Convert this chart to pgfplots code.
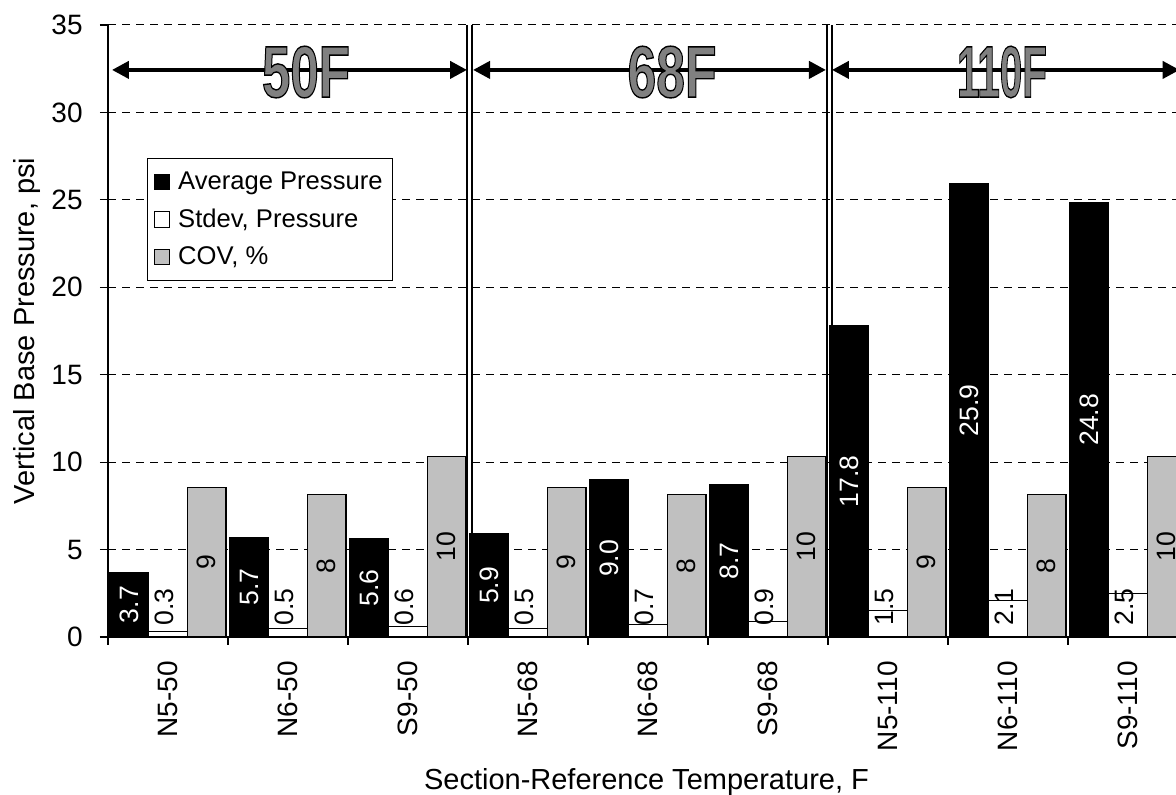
\documentclass[border=0pt]{standalone}
\usepackage{fontspec}
\setmainfont{Liberation Sans}
\usepackage{pgfplots}
\usepackage{pgfplotstable}
\pgfplotsset{compat=1.18}
\usetikzlibrary{arrows.meta}
\definecolor{barg}{HTML}{C0C0C0}
\definecolor{titleg}{HTML}{808080}

\pgfplotstableread{
x avg sd cov avgl sdl covl
0.5 3.7 0.3 8.55 3.7 0.3 9
1.5 5.7 0.5 8.15 5.7 0.5 8
2.5 5.6 0.6 10.3 5.6 0.6 10
3.5 5.9 0.5 8.55 5.9 0.5 9
4.5 9.0 0.7 8.15 9.0 0.7 8
5.5 8.7 0.9 10.3 8.7 0.9 10
6.5 17.8 1.5 8.55 17.8 1.5 9
7.5 25.95 2.1 8.15 25.9 2.1 8
8.5 24.85 2.5 10.3 24.8 2.5 10
}\datatable

\newcommand{\lblfont}{\fontsize{13.3}{15}\selectfont}
\newcommand{\outl}[1]{{\fontsize{36}{40}\selectfont\color{titleg}\special{pdf:literal direct 2 Tr 0.7 w 0 G}\bfseries #1\special{pdf:literal direct 0 Tr}}}

\begin{document}
\begin{tikzpicture}
\begin{axis}[
  at={(54pt,79pt)}, anchor=south west,
  scale only axis, width=534pt, height=306pt,
  xmin=0, xmax=8.9, ymin=0, ymax=35,
  axis x line*=bottom, axis y line*=left,
  axis line style={line width=0.8pt, black},
  every tick/.style={black, line width=0.6pt},
  tick align=outside, major tick length=4pt,
  ytick={0,5,...,35},
  xtick={0,1,...,9}, xticklabels={},
  extra x ticks={0.5,1.5,...,8.5},
  extra x tick labels={N5-50,N6-50,S9-50,N5-68,N6-68,S9-68,N5-110,N6-110,S9-110},
  extra x tick style={major tick length=0pt,
     tick label style={rotate=90, anchor=east, inner sep=0pt}},
  xticklabel shift=12pt,
  yticklabel style={anchor=east, inner sep=0pt},
  yticklabel shift=8.5pt,
  /pgf/number format/assume math mode=true,
  tick label style={font=\fontsize{14}{16}\selectfont},
  ymajorgrids,
  grid style={black, line width=0.5pt, dash pattern=on 4pt off 3pt},
  xlabel={Section-Reference Temperature, F},
  ylabel={Vertical Base Pressure, psi},
  label style={font=\fontsize{14.5}{17}\selectfont},
  xlabel style={at={(axis description cs:0.5042,-0.249)}, anchor=base},
  ylabel style={at={(axis description cs:-0.0754,0.5)}, anchor=center, rotate=0},
  legend style={at={(axis description cs:0.0365,0.7827)}, anchor=north west,
     draw=black, line width=0.6pt, fill=white,
     font=\fontsize{12.8}{15}\selectfont,
     inner xsep=3pt, inner ysep=4.5pt, row sep=4.2pt, column sep=2pt,
     cells={anchor=west}},
  legend image code/.code={\draw[#1, line width=0.5pt] (0pt,-3.9pt) rectangle (7.8pt,3.9pt);},
]
\addplot[ybar, bar width=19.33pt, bar shift=-19.33pt, fill=black, draw=black, line width=0.6pt]
  table[x=x, y=avg] {\datatable};
\addlegendentry{Average Pressure}
\addplot[ybar, bar width=19.33pt, bar shift=0pt, fill=white, draw=black, line width=0.6pt]
  table[x=x, y=sd] {\datatable};
\addlegendentry{Stdev, Pressure}
\addplot[ybar, bar width=19.33pt, bar shift=19.33pt, fill=barg, draw=black, line width=0.6pt]
  table[x=x, y=cov] {\datatable};
\addlegendentry{COV, \%}

% value labels
\addplot[forget plot, only marks, mark=none, nodes near coords, point meta=explicit symbolic,
  every node near coord/.style={rotate=90, anchor=center, inner sep=0pt, text=white, font=\lblfont}]
  table[x expr=\thisrow{x}-0.322, y expr=\thisrow{avg}/2, meta=avgl] {\datatable};
\addplot[forget plot, only marks, mark=none, nodes near coords, point meta=explicit symbolic,
  every node near coord/.style={rotate=90, anchor=west, inner sep=0pt, text=black, font=\lblfont}]
  table[x expr=\thisrow{x}-0.03, y expr=0.63, meta=sdl] {\datatable};
\addplot[forget plot, only marks, mark=none, nodes near coords, point meta=explicit symbolic,
  every node near coord/.style={rotate=90, anchor=center, inner sep=0pt, text=black, font=\lblfont}]
  table[x expr=\thisrow{x}+0.322, y expr=\thisrow{cov}/2, meta=covl] {\datatable};

% group separators
\draw[black, line width=0.8pt] (axis cs:2.994,0) -- (axis cs:2.994,35);
\draw[black, line width=0.8pt] (axis cs:3.033,0) -- (axis cs:3.033,35);
\draw[black, line width=0.8pt] (axis cs:5.994,0) -- (axis cs:5.994,35);
\draw[black, line width=0.8pt] (axis cs:6.033,0) -- (axis cs:6.033,35);

% group arrows
\draw[line width=2pt, {Triangle[length=8.5pt,width=8.5pt]}-{Triangle[length=8.5pt,width=8.5pt]}]
  (axis cs:0.033,32.43) -- (axis cs:2.992,32.43);
\draw[line width=2pt, {Triangle[length=8.5pt,width=8.5pt]}-{Triangle[length=8.5pt,width=8.5pt]}]
  (axis cs:3.042,32.43) -- (axis cs:5.983,32.43);
\draw[line width=2pt, {Triangle[length=8.5pt,width=8.5pt]}-{Triangle[length=8.5pt,width=8.5pt]}]
  (axis cs:6.033,32.43) -- (axis cs:8.93,32.43);

% group titles
\node[inner sep=0pt] at (axis cs:1.65,32.31) {\resizebox{44pt}{25.5pt}{\outl{50F}}};
\node[inner sep=0pt] at (axis cs:4.70,32.31) {\resizebox{44.5pt}{25.5pt}{\outl{68F}}};
\node[inner sep=0pt] at (axis cs:7.45,32.31) {\resizebox{45pt}{25.5pt}{\outl{110F}}};
\end{axis}
\pgfresetboundingbox
\path[use as bounding box] (0,0) rectangle (588pt,397.5pt);
\end{tikzpicture}
\end{document}
